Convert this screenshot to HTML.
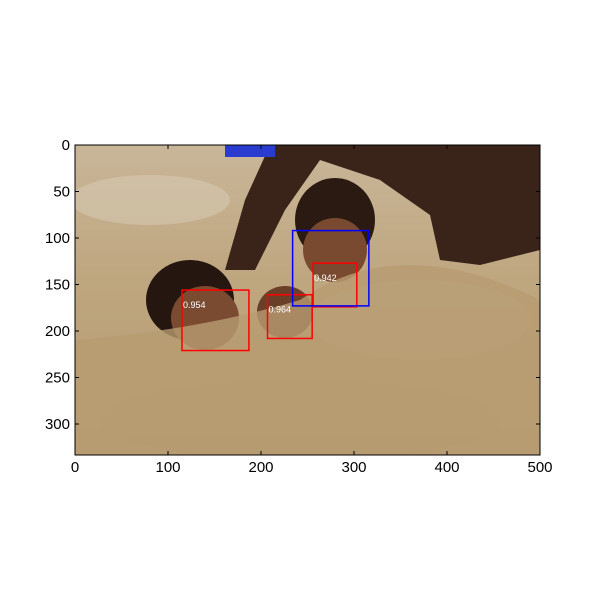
<!DOCTYPE html>
<html><head><meta charset="utf-8"><style>
body{margin:0;background:#fff;}
svg{display:block;font-family:"Liberation Sans",sans-serif;}
</style></head><body>
<svg id="chart" width="600" height="600" viewBox="0 0 600 600">
<defs>
<linearGradient id="sand" x1="0" y1="0" x2="0" y2="1">
<stop offset="0" stop-color="#c9b699"/><stop offset="0.4" stop-color="#bfa781"/><stop offset="1" stop-color="#b59a70"/>
</linearGradient>
<clipPath id="clip"><rect x="75" y="145" width="465" height="310"/></clipPath>
</defs>
<g clip-path="url(#clip)">
<rect x="75" y="145" width="465" height="310" fill="url(#sand)"/>
<ellipse cx="150" cy="200" rx="80" ry="25" fill="#d6c8b0" opacity="0.6"/>
<ellipse cx="420" cy="320" rx="110" ry="40" fill="#c8b28c" opacity="0.6"/>
<ellipse cx="300" cy="420" rx="200" ry="40" fill="#ad9068" opacity="0.5"/>
<path d="M270 145 L540 145 L540 250 L480 265 L440 260 L430 215 L380 180 L320 160 L285 210 L255 270 L225 270 L245 200 Z" fill="#3a2419"/>
<rect x="225" y="145" width="50" height="12" fill="#2a3bd0"/>
<ellipse cx="335" cy="220" rx="40" ry="42" fill="#2a1a12"/>
<ellipse cx="335" cy="250" rx="32" ry="32" fill="#7a4a30"/>
<ellipse cx="190" cy="300" rx="44" ry="40" fill="#25160f"/>
<ellipse cx="205" cy="318" rx="34" ry="32" fill="#7a4b31"/>
<ellipse cx="285" cy="312" rx="28" ry="26" fill="#6a3f28"/>
<path d="M75 340 Q200 330 300 300 Q400 230 540 300 L540 455 L75 455 Z" fill="#b89c72" opacity="0.8"/>
</g>
<rect x="75" y="145" width="465" height="310" fill="none" stroke="#000" stroke-width="1"/>
<g id="boxes"></g>
<g id="axes"></g>
</svg>
<script>
const boxX1=[115,207,256,234];
const boxY1=[156,161,127,92];
const boxX2=[187,255,303,316];
const boxY2=[221,208,174,173];
const boxColor=['red','red','red','blue'];
const scores=['0.954','0.964','0.942',''];
const xTicks=[0,100,200,300,400,500];
const yTicks=[0,50,100,150,200,250,300];
const NS='http://www.w3.org/2000/svg';
const sx=v=>75+v*0.93, sy=v=>145+v*0.93;
const bg=document.getElementById('boxes');
for(let i=0;i<boxX1.length;i++){
 const r=document.createElementNS(NS,'rect');
 r.setAttribute('x',sx(boxX1[i]));r.setAttribute('y',sy(boxY1[i]));
 r.setAttribute('width',sx(boxX2[i])-sx(boxX1[i]));r.setAttribute('height',sy(boxY2[i])-sy(boxY1[i]));
 r.setAttribute('fill','none');r.setAttribute('stroke',boxColor[i]);r.setAttribute('stroke-width','1.5');
 
 
 bg.appendChild(r);
 if(scores[i]){
  const t=document.createElementNS(NS,'text');
  t.setAttribute('x',sx(boxX1[i])+1);t.setAttribute('y',sy(boxY1[i])+18);
  t.setAttribute('font-size','9');t.setAttribute('fill','#fff');t.textContent=scores[i];
  
  
  bg.appendChild(t);
 }
}
const ax=document.getElementById('axes');
function line(x1,y1,x2,y2){const l=document.createElementNS(NS,'line');l.setAttribute('x1',x1);l.setAttribute('y1',y1);l.setAttribute('x2',x2);l.setAttribute('y2',y2);l.setAttribute('stroke','#000');
 
 
 ax.appendChild(l);}
function text(x,y,s,anchor){const t=document.createElementNS(NS,'text');t.setAttribute('x',x);t.setAttribute('y',y);t.setAttribute('font-size','15');t.setAttribute('text-anchor',anchor);t.textContent=s;
 
 
 ax.appendChild(t);}
xTicks.forEach(v=>{const x=sx(v);line(x,455,x,451);line(x,145,x,149);text(x,472,String(v),'middle');});
yTicks.forEach(v=>{const y=sy(v);line(75,y,79,y);line(540,y,536,y);text(70,y+5,String(v),'end');});
</script>
</body></html>
